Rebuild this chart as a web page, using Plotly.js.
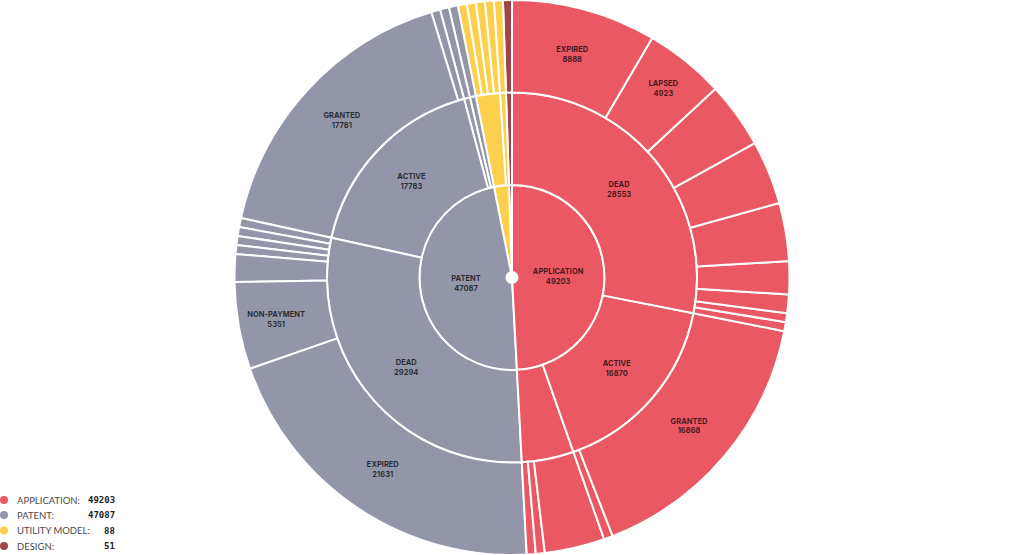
<!DOCTYPE html>
<html><head><meta charset="utf-8">
<script src="https://cdn.plot.ly/plotly-3.0.1.min.js"></script>
<style>html,body{margin:0;padding:0;background:#fff;overflow:hidden}#chart{width:1024px;height:555px}</style>
</head><body><div id="chart"></div>
<script>
// ---- inner ring: record type ----
const types = ['APPLICATION', 'PATENT', 'UTILITY MODEL', 'DESIGN'];
const typeCounts = [49203, 47087, 88, 51];
const typeColors = ['#EA5864', '#9296A8', '#FCCF4C', '#A0434A'];

// ---- middle ring: legal status (clockwise order) ----
const statusType   = ['APPLICATION', 'APPLICATION', 'APPLICATION', 'PATENT', 'PATENT', 'PATENT', 'PATENT', 'UTILITY MODEL', 'UTILITY MODEL', 'DESIGN'];
const statusLabels = ['DEAD', 'ACTIVE', '', 'DEAD', 'ACTIVE', '', '', '', '', ''];
const statusCounts = [28553, 16870, 3780, 29294, 17783, 6, 4, 80, 8, 51];

// ---- outer ring: status detail (index into the status arrays) ----
const leafStatus = [0,0,0,0,0,0,0,0,0, 1,1, 2,2,2, 3,3,3,3,3,3,3, 4,4, 5, 6, 7,7,7,7, 8, 9];
const leafLabels = ['EXPIRED','LAPSED','','','','','','','', 'GRANTED','', '','','', 'EXPIRED','NON-PAYMENT','','','','','', 'GRANTED','', '', '', '','','','', '', ''];
const leafCounts = [8888,4923,4067,3921,3570,2019,1141,15,9, 16868,2, 3687,60,33, 21631,5351,1697,230,180,125,80, 17781,2, 6, 4, 40,20,12,8, 8, 51];

// the original chart draws every slice with a minimum angle, and labels only wide slices
const MIN_ANGLE = 1.88;
const LABEL_MIN_ANGLE = 15;

function displayWeights(vals) {
  const L = vals.reduce((a, b) => a + b, 0);
  let W = L;
  for (let i = 0; i < 100; i++) {
    const m = W * MIN_ANGLE / 360;
    W = vals.reduce((a, v) => a + Math.max(v, m), 0);
  }
  const m = W * MIN_ANGLE / 360;
  return { w: vals.map(v => Math.max(v, m)), total: W };
}
const dw = displayWeights(leafCounts);

const nodes = [];
const typeWeight = {}, statusWeight = {};
leafCounts.forEach((c, j) => {
  const s = leafStatus[j];
  statusWeight[s] = (statusWeight[s] || 0) + dw.w[j];
  typeWeight[statusType[s]] = (typeWeight[statusType[s]] || 0) + dw.w[j];
});
const ang = w => w / dw.total * 360;
const txt = (label, count, w) => (label && ang(w) >= LABEL_MIN_ANGLE) ? label + '<br>' + count : '';

types.forEach((t, i) => {
  nodes.push({ id: t, label: t, parent: '', value: 0, color: typeColors[i], text: txt(t, typeCounts[i], typeWeight[t]) });
  statusType.forEach((st, s) => {
    if (st !== t) return;
    const sid = t + '/s' + s;
    nodes.push({ id: sid, label: statusLabels[s], parent: t, value: 0, color: typeColors[i], text: txt(statusLabels[s], statusCounts[s], statusWeight[s]) });
    leafStatus.forEach((ls, j) => {
      if (ls !== s) return;
      nodes.push({ id: sid + '/l' + j, label: leafLabels[j], parent: sid, value: dw.w[j], color: typeColors[i], text: txt(leafLabels[j], leafCounts[j], dw.w[j]) });
    });
  });
});
// plotly lays sectors counterclockwise, the reference runs clockwise from 12 o'clock
nodes.reverse();

const trace = {
  type: 'sunburst',
  ids: nodes.map(n => n.id),
  labels: nodes.map(n => n.label),
  parents: nodes.map(n => n.parent),
  values: nodes.map(n => n.value),
  text: nodes.map(n => n.text),
  textinfo: 'text',
  branchvalues: 'remainder',
  sort: false,
  rotation: 90,
  insidetextorientation: 'horizontal',
  marker: { colors: nodes.map(n => n.color), line: { color: '#ffffff', width: 2 } },
  leaf: { opacity: 1 },
  textfont: { family: 'Inter, Lato, sans-serif', size: 7.5, color: 'rgba(0,0,0,0.72)', weight: 700 },
  hoverinfo: 'none',
  domain: { x: [0, 1], y: [0, 1] }
};

const W = 1024, H = 555;
const px = x => x / W, py = y => 1 - y / H;
const shapes = [];
const annotations = [];
// center dot
shapes.push({ type: 'circle', xref: 'paper', yref: 'paper', x0: px(505.5), x1: px(518.5), y0: py(284), y1: py(271), fillcolor: '#fff', line: { width: 0 } });
const legendY = [500, 515, 530.5, 546];
types.forEach((t, i) => {
  const y = legendY[i];
  shapes.push({ type: 'circle', xref: 'paper', yref: 'paper', x0: px(0), x1: px(8), y0: py(y + 4), y1: py(y - 4), fillcolor: typeColors[i], line: { width: 0 } });
  annotations.push({ xref: 'paper', yref: 'paper', x: px(15), y: py(y), xanchor: 'left', yanchor: 'middle', showarrow: false, text: t + ':', font: { family: 'Lato, sans-serif', size: 9.5, color: '#4a4a4a' } });
  annotations.push({ xref: 'paper', yref: 'paper', x: px(117), y: py(y), xanchor: 'right', yanchor: 'middle', showarrow: false, text: String(typeCounts[i]), font: { family: 'DejaVu Sans Mono, monospace', size: 9, color: '#222', weight: 700 } });
});

Plotly.newPlot('chart', [trace], {
  width: W, height: H, margin: { l: 0, r: 0, t: 0, b: 0 },
  paper_bgcolor: '#ffffff', showlegend: false, shapes, annotations
}, { displayModeBar: false, staticPlot: true });
</script></body></html>
